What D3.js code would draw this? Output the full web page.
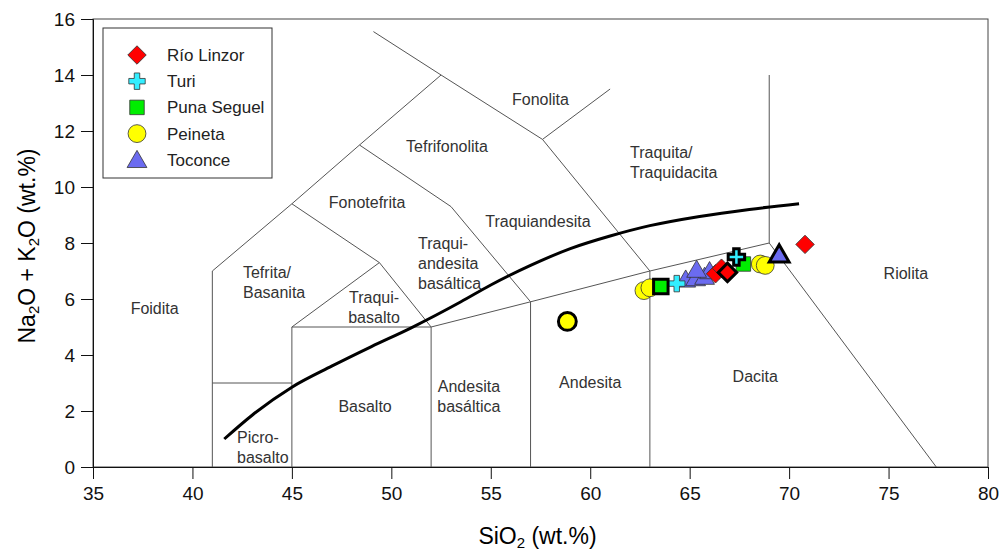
<!DOCTYPE html>
<html>
<head>
<meta charset="utf-8">
<script src="https://cdn.jsdelivr.net/npm/d3@7"></script>
<style>
  body { margin: 0; background: #fff; }
  svg { font-family: "Liberation Sans", Arial, sans-serif; }
</style>
</head>
<body>
<div id="chart"></div>
<script>
// TAS field boundaries (SiO2, Na2O+K2O)
var fieldLines = [
  [[41, 0], [41, 7], [45, 9.4], [48.4, 11.5], [52.5, 14], [49.1, 15.55]],
  [[41, 3], [45, 3]],
  [[45, 0], [45, 5], [52, 5], [52, 0]],
  [[52, 5], [57, 5.9], [63, 7], [69, 8], [77.4, 0]],
  [[57, 0], [57, 5.9]],
  [[63, 0], [63, 7]],
  [[45, 5], [49.4, 7.3], [52, 5]],
  [[45, 9.4], [49.4, 7.3]],
  [[48.4, 11.5], [53, 9.3], [57, 5.9]],
  [[52.5, 14], [57.6, 11.7], [63, 7]],
  [[57.6, 11.7], [61, 13.5]],
  [[69, 8], [69, 14]]
];

// alkaline / subalkaline divide
var dividePts = [[41.6, 1.0], [43, 1.85], [45, 2.85], [47, 3.6], [49, 4.3], [51, 4.97],
  [53.5, 5.9], [55, 6.5], [57, 7.2], [59, 7.8], [61, 8.25], [63, 8.62], [65.5, 8.95],
  [68, 9.2], [70.5, 9.4]];

var fieldLabels = [
  {t: ["Foidita"], x: 38.1, y: 5.65, a: "middle"},
  {t: ["Tefrita/", "Basanita"], x: 42.54, y: 6.58, a: "start"},
  {t: ["Picro-", "basalto"], x: 42.24, y: 0.7, a: "start"},
  {t: ["Basalto"], x: 48.68, y: 2.16, a: "middle"},
  {t: ["Traqui-", "basalto"], x: 49.13, y: 5.71, a: "middle"},
  {t: ["Andesita", "basáltica"], x: 53.9, y: 2.51, a: "middle"},
  {t: ["Andesita"], x: 60, y: 3.01, a: "middle"},
  {t: ["Dacita"], x: 68.3, y: 3.23, a: "middle"},
  {t: ["Riolita"], x: 75.87, y: 6.9, a: "middle"},
  {t: ["Traqui-", "andesita", "basáltica"], x: 51.34, y: 7.26, a: "start"},
  {t: ["Traquiandesita"], x: 57.37, y: 8.76, a: "middle"},
  {t: ["Traquita/", "Traquidacita"], x: 62.0, y: 10.88, a: "start"},
  {t: ["Fonotefrita"], x: 48.78, y: 9.43, a: "middle"},
  {t: ["Tefrifonolita"], x: 52.8, y: 11.43, a: "middle"},
  {t: ["Fonolita"], x: 57.5, y: 13.14, a: "middle"}
];

var seriesNames = ["Río Linzor", "Turi", "Puna Seguel", "Peineta", "Toconce"];
var seriesColors = ["#ff0000", "#33eeff", "#00ee00", "#ffff00", "#6b6bf0"];
var seriesShapes = ["diamond", "cross", "square", "circle", "triangle"];

// samples [SiO2, alkali, bold]
var rioLinzor = [[66.3, 6.9, 0], [66.6, 7.1, 0], [66.9, 6.95, 1], [70.8, 7.95, 0]];
var turi = [[64.35, 6.55, 0], [67.35, 7.5, 1]];
var punaSeguel = [[67.7, 7.25, 0], [63.55, 6.45, 1]];
var peineta = [[62.7, 6.3, 0], [63.0, 6.4, 0], [68.55, 7.25, 0], [68.8, 7.2, 0], [58.85, 5.2, 1]];
var toconce = [[64.8, 6.7, 0], [65.3, 6.75, 0], [65.75, 6.8, 0], [66.0, 7.0, 0], [65.35, 7.05, 0], [69.5, 7.6, 1]];
var seriesData = [rioLinzor, turi, punaSeguel, peineta, toconce];

var xTicks = [35, 40, 45, 50, 55, 60, 65, 70, 75, 80];
var yTicks = [0, 2, 4, 6, 8, 10, 12, 14, 16];

var margin = {top: 19, right: 13, bottom: 85, left: 93},
    width = 1001 - margin.left - margin.right,
    height = 552 - margin.top - margin.bottom;

var svg = d3.select("#chart").append("svg")
    .attr("width", 1001)
    .attr("height", 552);

var g = svg.append("g")
    .attr("transform", "translate(" + margin.left + "," + margin.top + ")");

var x = d3.scaleLinear().domain([35, 80]).range([0, width]);
var y = d3.scaleLinear().domain([0, 16]).range([height, 0]);

// frame
g.append("rect")
  .attr("width", width).attr("height", height)
  .attr("fill", "none").attr("stroke", "#444").attr("stroke-width", 1);

var line = d3.line().x(function(d) { return x(d[0]); }).y(function(d) { return y(d[1]); });

g.selectAll(".field")
  .data(fieldLines)
  .enter().append("path")
  .attr("class", "field")
  .attr("d", line)
  .attr("fill", "none")
  .attr("stroke", "#555")
  .attr("stroke-width", 1);

g.append("path")
  .datum(dividePts)
  .attr("d", d3.line().x(function(d) { return x(d[0]); }).y(function(d) { return y(d[1]); })
    .curve(d3.curveMonotoneX))
  .attr("fill", "none")
  .attr("stroke", "#000")
  .attr("stroke-width", 3);

fieldLabels.forEach(function(lb) {
  var n = lb.t.length;
  var txt = g.append("text")
    .attr("text-anchor", lb.a)
    .attr("font-size", 16)
    .attr("fill", "#333");
  lb.t.forEach(function(s, i) {
    txt.append("tspan")
      .attr("x", x(lb.x))
      .attr("y", y(lb.y) + (i - (n - 1) / 2) * 20 + 5.5)
      .text(s);
  });
});

// axes
var xAxis = d3.axisBottom(x).tickValues(xTicks).tickSize(12).tickPadding(8);
var yAxis = d3.axisLeft(y).tickValues(yTicks).tickSize(12).tickPadding(6);

var gx = g.append("g").attr("transform", "translate(0," + height + ")").call(xAxis);
var gy = g.append("g").call(yAxis);
[gx, gy].forEach(function(a) {
  a.selectAll("text").attr("font-size", 19).attr("fill", "#111")
    .attr("font-family", "'Liberation Sans', Arial, sans-serif");
  a.selectAll("line").attr("stroke", "#111");
  a.select(".domain").attr("stroke", "#111");
});

// axis titles with subscripts
var xt = svg.append("text")
  .attr("x", margin.left + width / 2 - 3)
  .attr("y", 544)
  .attr("text-anchor", "middle")
  .attr("font-size", 23);
xt.append("tspan").text("SiO");
xt.append("tspan").attr("font-size", 15).attr("dy", 4).text("2");
xt.append("tspan").attr("dy", -4).text(" (wt.%)");

var yt = svg.append("text")
  .attr("transform", "translate(35," + (margin.top + height / 2 + 3) + ") rotate(-90)")
  .attr("text-anchor", "middle")
  .attr("font-size", 23);
yt.append("tspan").text("Na");
yt.append("tspan").attr("font-size", 15).attr("dy", 4).text("2");
yt.append("tspan").attr("dy", -4).text("O + K");
yt.append("tspan").attr("font-size", 15).attr("dy", 4).text("2");
yt.append("tspan").attr("dy", -4).text("O (wt.%)");

// symbols
var symbolTypes = {
  diamond: d3.symbolSquare, cross: d3.symbolCross, square: d3.symbolSquare,
  circle: d3.symbolCircle, triangle: d3.symbolTriangle
};
var symbolSizes = {diamond: 170, cross: 150, square: 210, circle: 250, triangle: 170};
var symbolRot = {diamond: 45, cross: 0, square: 0, circle: 0, triangle: 0};

function symPath(shape) {
  return d3.symbol().type(symbolTypes[shape]).size(symbolSizes[shape])();
}

// flatten so draw order can be controlled: thin ones first, bold on top
var drawOrder = [4, 3, 0, 2, 1];
var points = [];
[0, 1].forEach(function(bold) {
  drawOrder.forEach(function(si) {
    seriesData[si].forEach(function(d) {
      if (d[2] === bold) points.push({si: si, x: d[0], y: d[1], bold: bold});
    });
  });
});

g.selectAll(".pt")
  .data(points)
  .enter().append("path")
  .attr("class", "pt")
  .attr("d", function(d) { return symPath(seriesShapes[d.si]); })
  .attr("transform", function(d) {
    var shape = seriesShapes[d.si];
    var dy = shape === "triangle" ? 2 : 0;
    return "translate(" + x(d.x) + "," + (y(d.y) + dy) + ") rotate(" + symbolRot[shape] + ")";
  })
  .attr("fill", function(d) { return seriesColors[d.si]; })
  .attr("stroke", function(d) { return d.bold ? "#000" : "#333"; })
  .attr("stroke-width", function(d) { return d.bold ? 3 : 0.8; });

// legend
var leg = svg.append("g").attr("transform", "translate(103,28)");
leg.append("rect")
  .attr("width", 169).attr("height", 150)
  .attr("fill", "#fff").attr("stroke", "#333").attr("stroke-width", 1);
seriesNames.forEach(function(name, i) {
  var shape = seriesShapes[i];
  var cy = 27 + i * 26.2;
  leg.append("path")
    .attr("d", symPath(shape))
    .attr("transform", "translate(34," + (cy + (shape === "triangle" ? 2 : 0)) + ") rotate(" + symbolRot[shape] + ")")
    .attr("fill", seriesColors[i])
    .attr("stroke", "#333")
    .attr("stroke-width", 0.8);
  leg.append("text")
    .attr("x", 64).attr("y", cy + 6)
    .attr("font-size", 17)
    .attr("fill", "#222")
    .text(name);
});
</script>
</body>
</html>
